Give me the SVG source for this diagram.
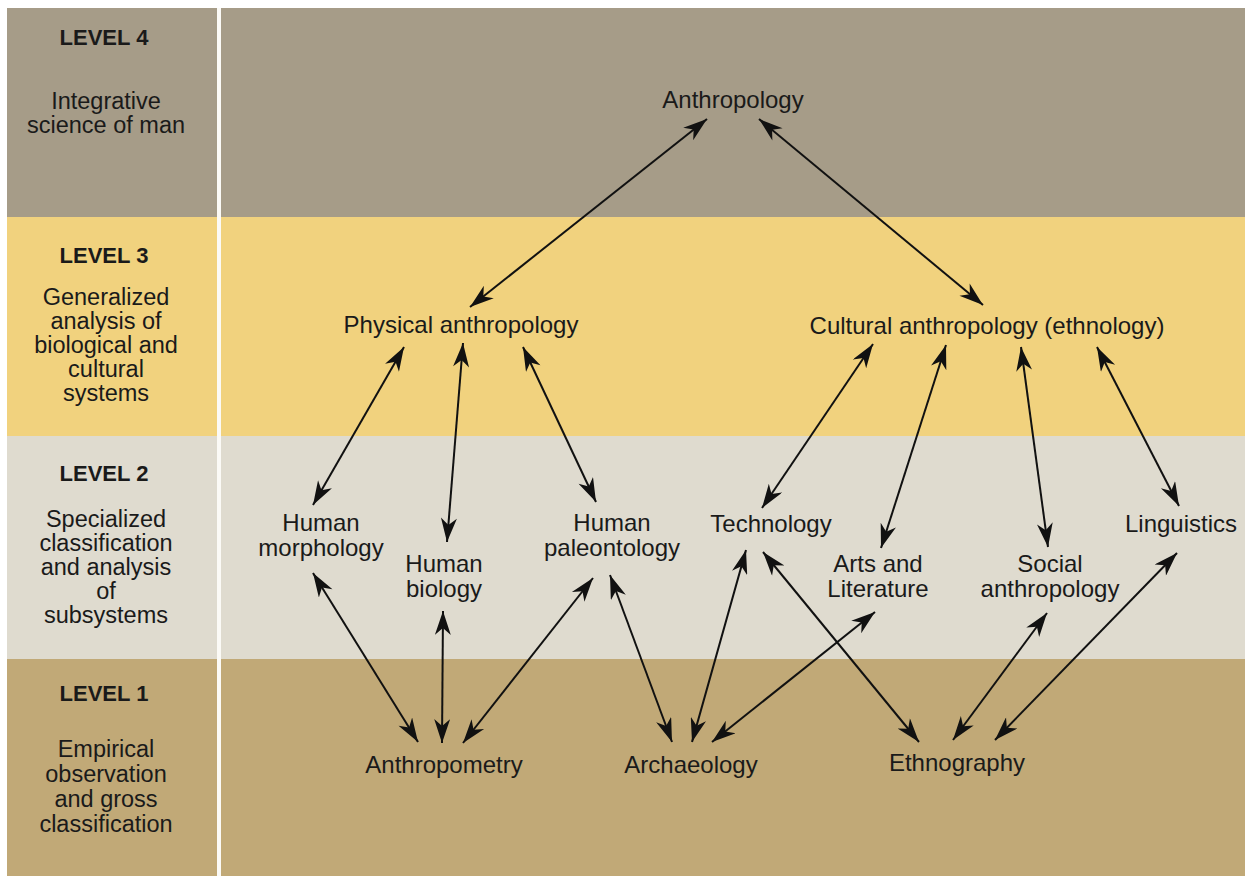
<svg xmlns="http://www.w3.org/2000/svg" width="1245" height="876" viewBox="0 0 1245 876">
<style>
.lvl{font-family:"Liberation Sans",Arial,sans-serif;font-weight:bold;font-size:22px;fill:#1a1a1a;text-anchor:middle}
.desc{font-family:"Liberation Sans",Arial,sans-serif;font-size:23.5px;fill:#1a1a1a;text-anchor:middle}
.node{font-family:"Liberation Sans",Arial,sans-serif;font-size:24px;fill:#1a1a1a;text-anchor:middle}
.arr{stroke:#111;stroke-width:2;fill:none;marker-start:url(#ah);marker-end:url(#ah)}
</style>
<defs>
<marker id="ah" viewBox="0 0 24 16" refX="24" refY="8" markerWidth="26" markerHeight="16" markerUnits="userSpaceOnUse" orient="auto-start-reverse">
<path d="M0,0 L24,8 L0,16 L7,8 Z" fill="#111"/>
</marker>
</defs>
<rect x="0" y="0" width="1245" height="876" fill="#ffffff"/>
<g id="bands">
<rect x="7" y="8" width="1238" height="209" fill="#a69c88"/>
<rect x="7" y="217" width="1238" height="219" fill="#f1d27e"/>
<rect x="7" y="436" width="1238" height="223" fill="#dfdbcf"/>
<rect x="7" y="659" width="1238" height="217" fill="#c1a977"/>
<rect x="217" y="8" width="4" height="868" fill="#fbfaf6"/>
</g>
<g id="level4-label">
<text class="lvl" x="104" y="45">LEVEL 4</text>
<text class="desc" x="106" y="109">Integrative</text>
<text class="desc" x="106" y="133">science of man</text>
</g>
<g id="level3-label">
<text class="lvl" x="104" y="263">LEVEL 3</text>
<text class="desc" x="106" y="305">Generalized</text>
<text class="desc" x="106" y="329">analysis of</text>
<text class="desc" x="106" y="353">biological and</text>
<text class="desc" x="106" y="377">cultural</text>
<text class="desc" x="106" y="401">systems</text>
</g>
<g id="level2-label">
<text class="lvl" x="104" y="481">LEVEL 2</text>
<text class="desc" x="106" y="527">Specialized</text>
<text class="desc" x="106" y="551">classification</text>
<text class="desc" x="106" y="575">and analysis</text>
<text class="desc" x="106" y="599">of</text>
<text class="desc" x="106" y="623">subsystems</text>
</g>
<g id="level1-label">
<text class="lvl" x="104" y="701">LEVEL 1</text>
<text class="desc" x="106" y="757">Empirical</text>
<text class="desc" x="106" y="782">observation</text>
<text class="desc" x="106" y="807">and gross</text>
<text class="desc" x="106" y="832">classification</text>
</g>
<g id="connectors">
<line class="arr" x1="707" y1="119" x2="470" y2="307"/>
<line class="arr" x1="759" y1="119" x2="983" y2="305"/>
<line class="arr" x1="404" y1="347" x2="313" y2="505"/>
<line class="arr" x1="463" y1="343" x2="447" y2="542"/>
<line class="arr" x1="523" y1="347" x2="596" y2="502"/>
<line class="arr" x1="873" y1="344" x2="762" y2="508"/>
<line class="arr" x1="946" y1="345" x2="881" y2="548"/>
<line class="arr" x1="1021" y1="347" x2="1048" y2="547"/>
<line class="arr" x1="1097" y1="347" x2="1179" y2="506"/>
<line class="arr" x1="313" y1="573" x2="418" y2="742"/>
<line class="arr" x1="443" y1="611" x2="442" y2="743"/>
<line class="arr" x1="593" y1="578" x2="463" y2="743"/>
<line class="arr" x1="610" y1="575" x2="672" y2="742"/>
<line class="arr" x1="746" y1="550" x2="692" y2="742"/>
<line class="arr" x1="875" y1="612" x2="712" y2="742"/>
<line class="arr" x1="763" y1="552" x2="919" y2="742"/>
<line class="arr" x1="1047" y1="613" x2="953" y2="740"/>
<line class="arr" x1="1177" y1="553" x2="995" y2="740"/>
</g>
<g id="n-anthropology"><text class="node" x="733" y="108">Anthropology</text></g>
<g id="n-physical"><text class="node" x="461" y="333">Physical anthropology</text></g>
<g id="n-cultural"><text class="node" x="987" y="334">Cultural anthropology (ethnology)</text></g>
<g id="n-morphology"><text class="node" x="321" y="531">Human</text><text class="node" x="321" y="556">morphology</text></g>
<g id="n-biology"><text class="node" x="444" y="572">Human</text><text class="node" x="444" y="597">biology</text></g>
<g id="n-paleontology"><text class="node" x="612" y="531">Human</text><text class="node" x="612" y="556">paleontology</text></g>
<g id="n-technology"><text class="node" x="771" y="532">Technology</text></g>
<g id="n-arts"><text class="node" x="878" y="572">Arts and</text><text class="node" x="878" y="597">Literature</text></g>
<g id="n-social"><text class="node" x="1050" y="572">Social</text><text class="node" x="1050" y="597">anthropology</text></g>
<g id="n-linguistics"><text class="node" x="1181" y="532">Linguistics</text></g>
<g id="n-anthropometry"><text class="node" x="444" y="773">Anthropometry</text></g>
<g id="n-archaeology"><text class="node" x="691" y="773">Archaeology</text></g>
<g id="n-ethnography"><text class="node" x="957" y="771">Ethnography</text></g>
</svg>
